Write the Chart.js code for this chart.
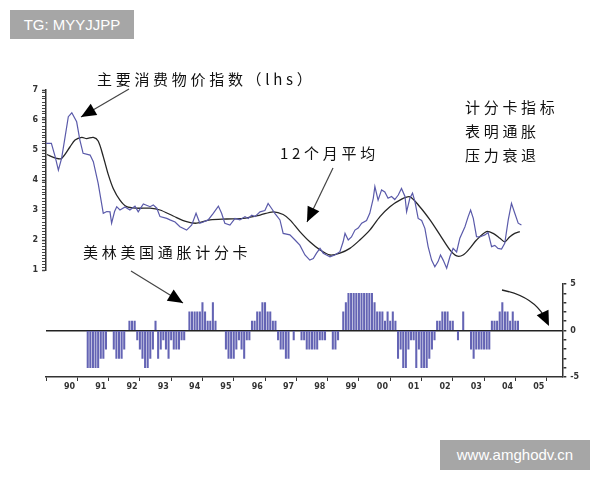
<!DOCTYPE html>
<html>
<head>
<meta charset="utf-8">
<script src="https://cdn.jsdelivr.net/npm/chart.js@4"></script>
<style>
  body { margin: 0; width: 600px; height: 480px; background: #fff; position: relative; overflow: hidden; }
  canvas, svg, .note, .tag { position: absolute; }
  #cpi-chart { left: 0; top: 70px; }
  #score-chart { left: 0; top: 270px; }
  #marks { left: 0; top: 0; }
  .note { font-family: "Noto Sans CJK SC", sans-serif; font-size: 15px; letter-spacing: 3.7px; color: #111; white-space: nowrap; line-height: 1; }
  .tag { background: #a6a6a6; color: #fff; font-family: "Liberation Sans", Arial, sans-serif; font-size: 15px; text-align: center; }
</style>
</head>
<body>
<div class="tag" style="left:10px;top:10px;width:124px;height:29px;line-height:29px;">TG: MYYJJPP</div>
<div class="tag" style="left:440px;top:440px;width:150px;height:30px;line-height:30px;">www.amghodv.cn</div>

<canvas id="cpi-chart" width="600" height="210"></canvas>
<canvas id="score-chart" width="600" height="130"></canvas>
<svg id="marks" width="600" height="480"></svg>

<div class="note" style="left:97px;top:71px;">主要消费物价指数（lhs）</div>
<div class="note" style="left:465px;top:99px;">计分卡指标</div>
<div class="note" style="left:465px;top:123px;">表明通胀</div>
<div class="note" style="left:465px;top:147px;">压力衰退</div>
<div class="note" style="left:280px;top:145px;">12个月平均</div>
<div class="note" style="left:83px;top:244px;">美林美国通胀计分卡</div>

<script>
// months counted from Jan 1990
const cpiMonths = [0, 2, 3.4, 4.6, 5.8, 7.1, 8.3, 9.6, 11.4, 12.6, 13.8, 16.4, 17.6, 19.4, 21.3, 22.6, 23.8, 24.4, 25.5, 26.3,
  27.5, 29.4, 31.2, 33.1, 34.3, 36.2, 38.7, 39.9, 41.2, 42.4, 44.9, 46.1, 48, 49.8, 52.3, 54.2, 55.8, 57.2, 58.5, 60.3,
  62.2, 64.1, 65.3, 66.5, 68.4, 70.3, 72.1, 74, 75.2, 76.5, 77.7, 79.6, 81.4, 82.6, 83.9, 85.1, 87, 88.2, 90.7, 92.6,
  94.4, 96.3, 98.1, 99.4, 100.6, 101.9, 103.1, 104.3, 105.6, 107.4, 109.3, 110.5, 111.2, 112.4, 113.6, 114.9, 116.1, 117.4, 119.2, 120.4,
  121.7, 122.3, 123.5, 124.8, 126, 127.2, 128.5, 129.7, 131, 132.2, 133.5, 134.1, 135.3, 136.3, 137.2, 138.4, 139.7, 140.9, 142.1, 143.4,
  144.6, 145.8, 146.7, 147.7, 149, 150.2, 151.4, 152.7, 153.9, 155.8, 157, 157.9, 158.9, 160.1, 161.3, 163.2, 164.4, 165.7, 166.9, 168.1,
  169.4, 170.6, 171.9, 173.1, 174.3, 175.6, 176.8];
const cpiValues = [5.22, 5.22, 4.78, 4.33, 4.72, 5.44, 6.11, 6.24, 5.94, 5.33, 4.89, 4.83, 4.61, 3.89, 2.89, 2.95, 2.94, 2.56, 2.95, 3.11,
  3.0, 3.1, 3.0, 3.13, 2.94, 3.2, 3.11, 3.17, 3.06, 2.78, 2.72, 2.67, 2.6, 2.44, 2.33, 2.5, 2.89, 2.56, 2.6, 2.67,
  2.89, 3.13, 2.89, 2.56, 2.5, 2.72, 2.67, 2.78, 2.72, 2.83, 2.78, 2.94, 2.98, 3.22, 3.05, 2.89, 2.67, 2.22, 2.17, 2.0,
  1.83, 1.5, 1.33, 1.38, 1.56, 1.72, 1.56, 1.5, 1.44, 1.5, 1.61, 1.94, 2.22, 2.0, 2.1, 2.33, 2.4, 2.56, 2.65, 2.89,
  3.39, 3.78, 3.33, 3.67, 3.6, 3.39, 3.45, 3.35, 3.5, 3.72, 3.45, 2.94, 3.39, 3.56, 3.28, 2.72, 2.65, 2.39, 1.78, 1.33,
  1.11, 1.28, 1.5, 1.33, 1.06, 1.44, 1.72, 1.6, 2.06, 2.44, 2.78, 3.0, 2.72, 2.11, 2.1, 2.17, 2.25, 1.78, 1.82, 1.72,
  1.7, 1.89, 2.67, 3.22, 2.9, 2.56, 2.5];

const avgMonths = [0.3, 4, 5.8, 8.9, 10.8, 13.3, 15.1, 17.6, 19.4, 21.3, 23.2, 25, 27.5, 30, 33.7, 38.7, 42.4, 47.3, 52.3, 56,
  61, 67.2, 73.3, 79.6, 84.5, 88.2, 90.7, 94.4, 98.1, 101.9, 105.6, 109.3, 113, 116.7, 120.4, 124.2, 127.9, 131.6, 135.3, 139,
  142.8, 146.5, 150.2, 152.7, 155.1, 157.6, 160.1, 163.8, 166.3, 168.8, 170.6, 172.5, 174.3, 176.2];
const avgValues = [4.85, 4.72, 4.72, 5.1, 5.33, 5.42, 5.38, 5.42, 5.3, 4.78, 4.17, 3.72, 3.33, 3.11, 3.06, 3.06, 3.0, 2.8, 2.61, 2.56,
  2.67, 2.7, 2.72, 2.83, 2.94, 2.85, 2.67, 2.28, 1.94, 1.67, 1.5, 1.56, 1.72, 2.0, 2.33, 2.78, 3.11, 3.33, 3.44, 3.11,
  2.67, 2.17, 1.67, 1.47, 1.5, 1.72, 2.0, 2.28, 2.22, 2.06, 1.94, 2.11, 2.22, 2.28];

// scorecard, one value per month, Jan 1990 .. Dec 2004
const scoreValues = [
  0, 0, 0, 0, 0, 0, 0, 0, 0, 0, 0, 0,            // 1990
  0, -4, -4, -4, -4, -4, -3, -3, -2, 0, 0, -2,   // 1991
  -3, -3, -3, -2, 0, 1, 1, 1, -1, -2, -3, -4,    // 1992
  -4, -3, -2, 1, -3, -2, -1, -2, -3, -1, -2, -2, // 1993
  -2, -1, -1, 0, 2, 2, 2, 2, 2, 3, 2, 1,         // 1994
  1, 3, 1, 0, 0, 0, -2, -3, -3, -3, -2, -1,      // 1995
  -2, -3, -1, -1, 1, 1, 2, 2, 3, 3, 2, 2,        // 1996
  1, 1, -1, -2, -2, -3, -3, 0, -1, 0, 0, -1,     // 1997
  -1, -2, -2, -2, -2, -2, -1, -1, -1, 0, 0, -2,  // 1998
  -2, -1, 0, 2, 3, 4, 4, 4, 4, 4, 4, 4,          // 1999
  4, 4, 4, 3, 2, 2, 2, 1, 2, 1, 2, 1,            // 2000
  -3, -2, -4, -4, -2, -1, -1, -4, -2, -4, -4, -4, // 2001
  -3, -2, -1, 1, 1, 2, 2, 2, 1, 1, 0, -1,        // 2002
  0, 2, 0, 0, -2, -3, -2, -2, -2, -2, -2, -2,    // 2003
  1, 1, 1, 2, 3, 2, 2, 1, 2, 1, 1, 0             // 2004
];

const yearLabels = ['90', '91', '92', '93', '94', '95', '96', '97', '98', '99', '00', '01', '02', '03', '04', '05'];

const tickFont = { family: 'DejaVu Sans', size: 8, weight: 'bold' };
const firstYear = 1990;
const lastYear = 2006;

const cpiPoints = cpiMonths.map((m, i) => ({ x: firstYear + m / 12, y: cpiValues[i] }));
const avgPoints = avgMonths.map((m, i) => ({ x: firstYear + m / 12, y: avgValues[i] }));
const scorePoints = [];
scoreValues.forEach(function (v, m) {
  if (v !== 0) scorePoints.push({ x: firstYear + m / 12, y: v });
});

const isWhole = v => Math.abs(v - Math.round(v)) < 1e-6;

new Chart(document.getElementById('cpi-chart'), {
  type: 'line',
  data: {
    datasets: [
      { data: cpiPoints, borderColor: '#5a5aaa', borderWidth: 1.2, pointRadius: 0, tension: 0 },
      { data: avgPoints, borderColor: '#262626', borderWidth: 1.3, pointRadius: 0, tension: 0.3 }
    ]
  },
  options: {
    responsive: false,
    animation: false,
    layout: { padding: { top: 20, bottom: 10, left: 0, right: 37.7 } },
    plugins: { legend: { display: false }, tooltip: { enabled: false } },
    scales: {
      x: { type: 'linear', min: firstYear, max: lastYear, display: false },
      y: {
        min: 1, max: 7,
        afterFit: function (scale) { scale.width = 46; },
        ticks: {
          stepSize: 0.1, autoSkip: false, padding: 4, color: '#333', font: tickFont,
          callback: v => (isWhole(v) ? String(Math.round(v)) : '')
        },
        grid: {
          drawOnChartArea: false, tickLength: 4, tickColor: '#444',
          tickWidth: ctx => (ctx.tick && isWhole(ctx.tick.value) ? 1.5 : 1)
        },
        border: { color: '#333', width: 1.5 }
      }
    }
  }
});

new Chart(document.getElementById('score-chart'), {
  type: 'bar',
  data: {
    datasets: [{ data: scorePoints, backgroundColor: '#6464b4', borderWidth: 0, barThickness: 1.4 }]
  },
  options: {
    responsive: false,
    animation: false,
    layout: { padding: { top: 14, bottom: 0, left: 46, right: 0 } },
    plugins: { legend: { display: false }, tooltip: { enabled: false } },
    scales: {
      x: {
        type: 'linear', min: firstYear, max: lastYear,
        afterFit: function (scale) { scale.height = 23; },
        ticks: {
          stepSize: 0.5, autoSkip: false, maxRotation: 0, padding: 1, color: '#333', font: tickFont,
          callback: v => (isWhole(v) ? '' : yearLabels[Math.floor(v) - firstYear])
        },
        grid: {
          drawOnChartArea: false, tickLength: 4,
          tickColor: ctx => (ctx.tick && isWhole(ctx.tick.value) ? '#333' : 'rgba(0,0,0,0)')
        },
        border: { color: '#333', width: 1.5 }
      },
      y: {
        position: 'right', min: -5, max: 5,
        afterFit: function (scale) { scale.width = 37.7; },
        ticks: {
          stepSize: 1, autoSkip: false, padding: 4, color: '#333', font: tickFont,
          callback: v => (v % 5 === 0 ? String(v) : '')
        },
        grid: {
          color: ctx => (ctx.tick && ctx.tick.value === 0 ? '#222' : 'rgba(0,0,0,0)'),
          lineWidth: 1.5, tickLength: 4, tickColor: '#333'
        },
        border: { color: '#333', width: 1.5 }
      }
    }
  }
});

// pointer arrows of the annotations
const svg = document.getElementById('marks');
const NS = 'http://www.w3.org/2000/svg';

function head(tipX, tipY, fromX, fromY) {
  const dx = tipX - fromX, dy = tipY - fromY;
  const len = Math.sqrt(dx * dx + dy * dy);
  const ux = dx / len, uy = dy / len;
  const bx = tipX - ux * 15, by = tipY - uy * 15;
  const poly = document.createElementNS(NS, 'polygon');
  poly.setAttribute('points', tipX + ',' + tipY + ' ' + (bx - uy * 6.5) + ',' + (by + ux * 6.5) + ' ' + (bx + uy * 6.5) + ',' + (by - ux * 6.5));
  poly.setAttribute('fill', '#000');
  svg.appendChild(poly);
}

function arrow(x1, y1, x2, y2) {
  const line = document.createElementNS(NS, 'line');
  line.setAttribute('x1', x1); line.setAttribute('y1', y1);
  line.setAttribute('x2', x2); line.setAttribute('y2', y2);
  line.setAttribute('stroke', '#444');
  line.setAttribute('stroke-width', '1.2');
  svg.appendChild(line);
  head(x2, y2, x1, y1);
}

arrow(129, 89, 81, 117);
arrow(333, 168, 307, 222);
arrow(131, 271, 183, 303);

const curve = document.createElementNS(NS, 'path');
curve.setAttribute('d', 'M502,290 Q532,296 544,316');
curve.setAttribute('stroke', '#222');
curve.setAttribute('stroke-width', '1.4');
curve.setAttribute('fill', 'none');
svg.appendChild(curve);
head(549, 326, 541, 309);
</script>
</body>
</html>
